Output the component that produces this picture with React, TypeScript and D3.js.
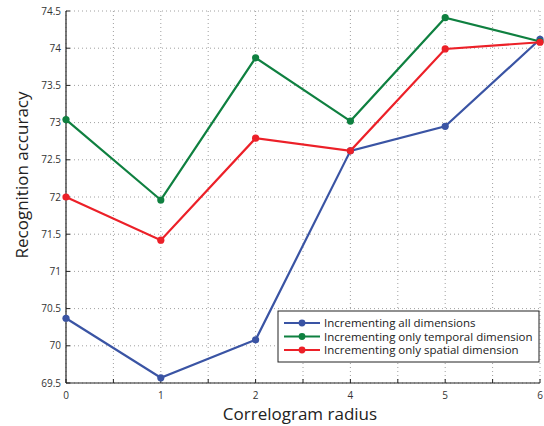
import * as d3 from "d3";
import React from "react";

// x categories are equally spaced even though the label jumps from 2 to 4
const radiusLabels = ["0", "1", "2", "4", "5", "6"];
const allDims = [70.37, 69.57, 70.08, 72.62, 72.95, 74.12];
const temporalOnly = [73.04, 71.96, 73.87, 73.02, 74.41, 74.09];
const spatialOnly = [72.0, 71.42, 72.79, 72.62, 73.99, 74.08];
const yTicks = [69.5, 70, 70.5, 71, 71.5, 72, 72.5, 73, 73.5, 74, 74.5];
const seriesNames = [
  "Incrementing all dimensions",
  "Incrementing only temporal dimension",
  "Incrementing only spatial dimension",
];
const seriesColors = ["#3a54a4", "#0f8040", "#ec2028"];

const App: React.FC = () => {
  const width = 544;
  const height = 426;
  const margin = { top: 11, right: 4, bottom: 43, left: 66 };
  const innerW = width - margin.left - margin.right;
  const innerH = height - margin.top - margin.bottom;

  const x = d3.scaleLinear().domain([0, radiusLabels.length - 1]).range([0, innerW]);
  const y = d3.scaleLinear().domain([69.5, 74.5]).range([innerH, 0]);
  const xGrid = d3.range(0, radiusLabels.length - 0.5, 0.5);

  const allSeries = [allDims, temporalOnly, spatialOnly];
  const line = d3
    .line<number>()
    .x((d, i) => x(i))
    .y((d) => y(d));

  const font = "'Open Sans', 'DejaVu Sans', sans-serif";
  const legendX = 278 - margin.left;
  const legendY = 311 - margin.top;

  return (
    <svg width={width} height={height} style={{ position: "absolute", left: 0, top: 0, background: "#fff" }}>
      <g transform={`translate(${margin.left},${margin.top})`} fontFamily={font}>
        {/* grid */}
        {xGrid.map((v) => (
          <line key={"gx" + v} x1={x(v)} x2={x(v)} y1={0} y2={innerH} stroke="#888" strokeWidth={0.8} strokeDasharray="1,3" />
        ))}
        {yTicks.map((v) => (
          <line key={"gy" + v} x1={0} x2={innerW} y1={y(v)} y2={y(v)} stroke="#888" strokeWidth={0.8} strokeDasharray="1,3" />
        ))}
        {/* axes */}
        <line x1={0} x2={0} y1={0} y2={innerH} stroke="#222" strokeWidth={1.2} />
        <line x1={0} x2={innerW} y1={innerH} y2={innerH} stroke="#222" strokeWidth={1.2} />
        {xGrid.map((v) => (
          <line key={"tx" + v} x1={x(v)} x2={x(v)} y1={innerH} y2={innerH - 4} stroke="#222" strokeWidth={1} />
        ))}
        {yTicks.map((v) => (
          <line key={"ty" + v} x1={0} x2={4} y1={y(v)} y2={y(v)} stroke="#222" strokeWidth={1} />
        ))}
        {yTicks.map((v) => (
          <text key={"ly" + v} x={-5} y={y(v)} dy="0.35em" textAnchor="end" fontSize={10} fill="#333">
            {String(v)}
          </text>
        ))}
        {radiusLabels.map((lab, i) => (
          <text key={"lx" + i} x={x(i)} y={innerH + 16} textAnchor="middle" fontSize={10} fill="#333">
            {lab}
          </text>
        ))}
        {/* series */}
        {allSeries.map((s, k) => (
          <g key={"s" + k}>
            <path d={line(s) || ""} fill="none" stroke={seriesColors[k]} strokeWidth={2.2} />
            {s.map((v, i) => (
              <circle key={i} cx={x(i)} cy={y(v)} r={3.6} fill={seriesColors[k]} />
            ))}
          </g>
        ))}
        {/* legend */}
        <rect x={legendX} y={legendY} width={261} height={51} fill="#fff" stroke="#222" strokeWidth={1} />
        {seriesNames.map((name, k) => (
          <g key={"lg" + k} transform={`translate(${legendX},${legendY + 12 + k * 13.5})`}>
            <line x1={6} x2={42} y1={0} y2={0} stroke={seriesColors[k]} strokeWidth={2.2} />
            <circle cx={24} cy={0} r={3.4} fill={seriesColors[k]} />
            <text x={46} y={0} dy="0.35em" fontSize={11.5} fill="#222">
              {name}
            </text>
          </g>
        ))}
        {/* titles */}
        <text x={300 - margin.left} y={innerH + 37} textAnchor="middle" fontSize={17} fill="#222">
          Correlogram radius
        </text>
        <text transform={`translate(${22 - margin.left},${175 - margin.top}) rotate(-90)`} textAnchor="middle" dy="0.35em" fontSize={17} fill="#222">
          Recognition accuracy
        </text>
      </g>
    </svg>
  );
};

export default App;
